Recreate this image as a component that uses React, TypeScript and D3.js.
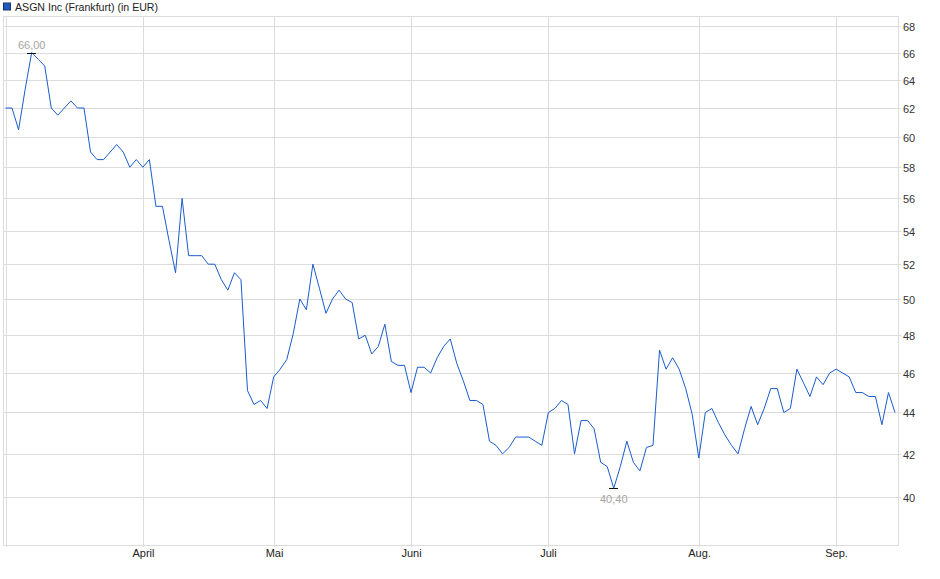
import * as d3 from "d3";
import { useEffect, useRef } from "react";

// daily closes (EUR), Frankfurt, one value per trading day
const prices: number[] = [
  62.0, 62.0, 60.5, 63.3, 66.0, 65.5, 65.0, 62.0, 61.5, 62.0,
  62.5, 62.0, 62.0, 59.0, 58.5, 58.5, 59.0, 59.5, 59.0, 58.0,
  58.5, 58.0, 58.5, 55.5, 55.5, 53.4, 51.5, 56.0, 52.5, 52.5,
  52.5, 52.0, 52.0, 51.1, 50.5, 51.5, 51.1, 45.1, 44.4, 44.6,
  44.2, 45.8, 46.2, 46.7, 48.1, 50.0, 49.4, 52.0, 50.6, 49.2,
  50.0, 50.5, 50.0, 49.8, 47.8, 48.0, 47.0, 47.4, 48.6, 46.6,
  46.4, 46.4, 45.0, 46.3, 46.3, 46.0, 46.8, 47.4, 47.8, 46.5,
  45.6, 44.6, 44.6, 44.4, 42.6, 42.4, 42.0, 42.3, 42.8, 42.8,
  42.8, 42.6, 42.4, 44.0, 44.2, 44.6, 44.4, 42.0, 43.6, 43.6,
  43.2, 41.6, 41.4, 40.4, 41.4, 42.6, 41.6, 41.2, 42.3, 42.4,
  47.2, 46.2, 46.8, 46.2, 45.2, 43.9, 41.8, 44.0, 44.2, 43.5,
  42.9, 42.4, 42.0, 43.2, 44.3, 43.4, 44.2, 45.2, 45.2, 44.0,
  44.2, 46.2, 45.5, 44.8, 45.8, 45.4, 46.0, 46.2, 46.0, 45.8,
  45.0, 45.0, 44.8, 44.8, 43.4, 45.0, 44.0,
];

// first trading day of each month (index into prices)
const monthIdx = [0, 21, 41, 62, 83, 106, 127];
const monthLabels = ["", "April", "Mai", "Juni", "Juli", "Aug.", "Sep."];

const yTicks = [40, 42, 44, 46, 48, 50, 52, 54, 56, 58, 60, 62, 64, 66, 68];

const title = "ASGN Inc (Frankfurt) (in EUR)";

export default function App() {
  const ref = useRef<SVGSVGElement | null>(null);

  useEffect(() => {
    if (!ref.current) return;
    const width = 940;
    const height = 579;
    const left = 3;
    const right = 898;
    const top = 16;
    const bottom = 545;
    const grid = "#dcdcdc";
    const font = "'Liberation Sans', Arial, sans-serif";

    const x = d3.scaleLinear().domain([0, prices.length - 1]).range([5.5, 895]);
    const y = d3.scaleLog().domain([37.9, 68.77]).range([bottom, top]);

    const svg = d3.select(ref.current);
    svg.selectAll("*").remove();
    svg.attr("width", width).attr("height", height);

    svg.append("rect").attr("width", width).attr("height", height).attr("fill", "#fff");

    // legend
    svg.append("rect")
      .attr("x", 3.5).attr("y", 3).attr("width", 7).attr("height", 7)
      .attr("fill", "#1d5bc0").attr("stroke", "#1b3568").attr("stroke-width", 1);
    svg.append("text")
      .attr("x", 15).attr("y", 10.5)
      .attr("font-family", font).attr("font-size", 10.6).attr("fill", "#222")
      .text(title);

    const g = svg.append("g").attr("shape-rendering", "crispEdges");

    // horizontal grid + right axis
    yTicks.forEach((v) => {
      const yy = Math.round(y(v)) + 0.5;
      g.append("line").attr("x1", left).attr("x2", right).attr("y1", yy).attr("y2", yy).attr("stroke", grid);
      g.append("line").attr("x1", right).attr("x2", right + 3).attr("y1", yy).attr("y2", yy).attr("stroke", grid);
      svg.append("text")
        .attr("x", 903).attr("y", yy + 4)
        .attr("font-family", font).attr("font-size", 11).attr("fill", "#333")
        .text(String(v));
    });

    // vertical grid + month labels
    monthIdx.forEach((i, k) => {
      const xx = Math.round(x(i)) + 0.5;
      g.append("line").attr("x1", xx).attr("x2", xx).attr("y1", top).attr("y2", bottom + 2).attr("stroke", grid);
      if (monthLabels[k]) {
        svg.append("text")
          .attr("x", xx).attr("y", 557)
          .attr("text-anchor", "middle")
          .attr("font-family", font).attr("font-size", 11).attr("fill", "#222")
          .text(monthLabels[k]);
      }
    });

    // frame
    g.append("rect")
      .attr("x", left + 0.5).attr("y", top + 0.5)
      .attr("width", right - left).attr("height", bottom - top)
      .attr("fill", "none").attr("stroke", grid);

    const line = d3.line<number>().x((_, i) => x(i)).y((d) => y(d));
    svg.append("path")
      .datum(prices)
      .attr("fill", "none")
      .attr("stroke", "#1a5ccc")
      .attr("stroke-width", 1)
      .attr("d", line);

    // high / low markers
    const hiIdx = d3.maxIndex(prices);
    const loIdx = d3.minIndex(prices);
    const fmt = (v: number) => v.toFixed(2).replace(".", ",");
    [
      { i: hiIdx, dy: -5 },
      { i: loIdx, dy: 14 },
    ].forEach(({ i, dy }) => {
      const px = x(i);
      const py = Math.round(y(prices[i])) + 0.5;
      svg.append("line")
        .attr("x1", px - 4.5).attr("x2", px + 4.5).attr("y1", py).attr("y2", py)
        .attr("stroke", "#111").attr("shape-rendering", "crispEdges");
      svg.append("text")
        .attr("x", px).attr("y", py + dy)
        .attr("text-anchor", "middle")
        .attr("font-family", font).attr("font-size", 11).attr("fill", "#a8a4a0")
        .text(fmt(prices[i]));
    });
  }, []);

  return <svg ref={ref} style={{ position: "absolute", left: 0, top: 0, display: "block" }} />;
}
